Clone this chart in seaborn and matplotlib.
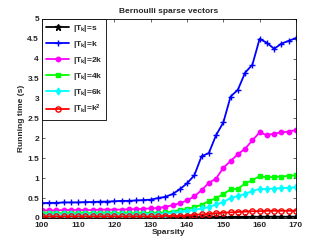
import numpy as np
import matplotlib
matplotlib.use("Agg")
import matplotlib.pyplot as plt
import seaborn as sns

sparsity = list(range(100, 171, 2))

t_s = [0.01, 0.01, 0.01, 0.01, 0.01, 0.01, 0.01, 0.01, 0.01, 0.01, 0.01, 0.01,
       0.01, 0.01, 0.01, 0.01, 0.01, 0.02, 0.02, 0.02, 0.02, 0.02, 0.02, 0.02,
       0.02, 0.02, 0.02, 0.02, 0.02, 0.03, 0.03, 0.03, 0.03, 0.03, 0.03, 0.03]
t_k = [0.37, 0.38, 0.38, 0.39, 0.39, 0.39, 0.40, 0.40, 0.41, 0.41, 0.42, 0.43,
       0.43, 0.44, 0.45, 0.46, 0.50, 0.53, 0.60, 0.72, 0.87, 1.07, 1.55, 1.63,
       2.08, 2.40, 3.05, 3.22, 3.65, 3.85, 4.50, 4.40, 4.25, 4.38, 4.45, 4.52]
t_2k = [0.19, 0.19, 0.19, 0.20, 0.20, 0.20, 0.20, 0.20, 0.21, 0.21, 0.21, 0.21,
        0.22, 0.22, 0.23, 0.24, 0.25, 0.28, 0.32, 0.37, 0.44, 0.54, 0.70, 0.88,
        0.99, 1.26, 1.43, 1.60, 1.74, 1.95, 2.15, 2.08, 2.12, 2.15, 2.17, 2.21]
t_4k = [0.12, 0.12, 0.12, 0.12, 0.12, 0.12, 0.12, 0.12, 0.12, 0.12, 0.12, 0.12,
        0.12, 0.12, 0.12, 0.13, 0.13, 0.14, 0.16, 0.20, 0.22, 0.27, 0.33, 0.42,
        0.50, 0.60, 0.72, 0.73, 0.87, 0.95, 1.05, 1.02, 1.03, 1.04, 1.06, 1.07]
t_6k = [0.09, 0.09, 0.09, 0.09, 0.09, 0.09, 0.09, 0.09, 0.09, 0.09, 0.09, 0.09,
        0.09, 0.09, 0.09, 0.10, 0.10, 0.11, 0.12, 0.15, 0.18, 0.20, 0.24, 0.27,
        0.34, 0.40, 0.50, 0.55, 0.60, 0.68, 0.73, 0.73, 0.74, 0.75, 0.76, 0.77]
t_k2 = [0.04, 0.04, 0.04, 0.04, 0.04, 0.04, 0.04, 0.04, 0.04, 0.04, 0.04, 0.04,
        0.04, 0.04, 0.04, 0.04, 0.04, 0.05, 0.05, 0.05, 0.06, 0.08, 0.09, 0.10,
        0.12, 0.13, 0.14, 0.15, 0.16, 0.17, 0.17, 0.18, 0.18, 0.18, 0.18, 0.18]

labels = [r'$|\mathbf{T_k}|$=s', r'$|\mathbf{T_k}|$=k', r'$|\mathbf{T_k}|$=2k',
          r'$|\mathbf{T_k}|$=4k', r'$|\mathbf{T_k}|$=6k', r'$|\mathbf{T_k}|$=k$^\mathbf{2}$']
series = [t_s, t_k, t_2k, t_4k, t_6k, t_k2]
colors = ['black', '#0000ff', '#ff00ff', '#00ff00', '#00ffff', '#ff0000']
markers = ['*', '+', 'o', 's', 'd', 'o']
mfc = ['black', '#0000ff', '#ff00ff', '#00ff00', '#00ffff', 'none']
msz = [5, 4.5, 3.2, 3.2, 3.5, 3.8]

sns.set_style("white")
plt.rcParams['font.family'] = ['Liberation Sans', 'DejaVu Sans']
plt.rcParams['font.weight'] = 'bold'
plt.rcParams['mathtext.fontset'] = 'custom'
plt.rcParams['mathtext.rm'] = 'Liberation Sans:bold'
plt.rcParams['mathtext.bf'] = 'Liberation Sans:bold'
plt.rcParams['mathtext.it'] = 'Liberation Sans:bold'

fig = plt.figure(figsize=(3.27, 2.46), dpi=100)
ax = fig.add_axes([0.128, 0.114, 0.777, 0.809])

for lab, vals, c, m, fc, ms in zip(labels, series, colors, markers, mfc, msz):
    sns.lineplot(x=sparsity, y=vals, ax=ax, color=c, marker=m, markersize=ms,
                 markerfacecolor=fc, markeredgecolor=c, markeredgewidth=1.0,
                 linewidth=1.3, label=lab)

ax.set_xlim(100, 170)
ax.set_ylim(0, 5)
ax.set_xticks(range(100, 171, 10))
yt = [0, 0.5, 1, 1.5, 2, 2.5, 3, 3.5, 4, 4.5, 5]
ax.set_yticks(yt)
ax.set_yticklabels(['0', '0.5', '1', '1.5', '2', '2.5', '3', '3.5', '4', '4.5', '5'])
ax.tick_params(direction='in', length=2.5, width=0.5, labelsize=6, pad=2,
               top=True, right=True, bottom=True, left=True)
ax.tick_params(axis='x', pad=3)
for sp in ax.spines.values():
    sp.set_visible(True)
    sp.set_color('black')
    sp.set_linewidth(0.6)
ax.set_xlabel('Sparsity', fontsize=6, labelpad=0, fontweight='bold')
ax.set_ylabel('Running time (s)', fontsize=6, labelpad=2, fontweight='bold')
ax.set_title('Bernoulli sparse vectors', fontsize=6, pad=4, fontweight='bold')

leg = ax.legend(loc='upper left', fontsize=6, frameon=True, fancybox=False,
                edgecolor='black', framealpha=1, borderaxespad=0.05,
                handlelength=2.8, labelspacing=0.6, borderpad=0.45,
                handletextpad=0.4)
leg.get_frame().set_linewidth(0.6)

fig.savefig('out.png', dpi=100)
